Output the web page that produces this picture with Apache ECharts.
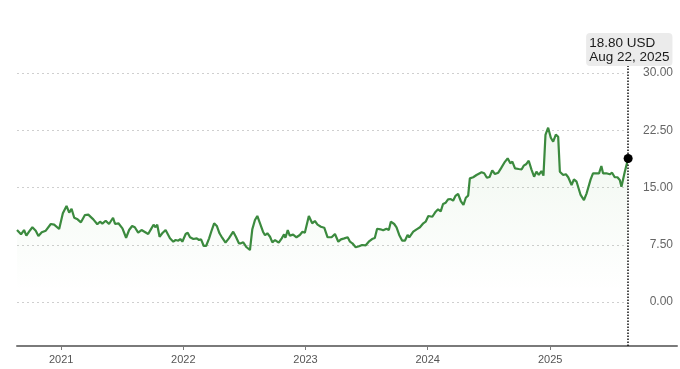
<!DOCTYPE html>
<html>
<head>
<meta charset="utf-8">
<script src="https://cdn.jsdelivr.net/npm/echarts@6/dist/echarts.min.js"></script>
<style>
html,body{margin:0;padding:0;background:#fff;}
#chart{width:680px;height:369px;}
</style>
</head>
<body>
<div id="chart"></div>
<script>
// ---- data ----
const startDate = [2020, 7, 22];          // Aug 22, 2020 (day offsets below count from here)
const axisEndOffset = 1972;               // x-axis runs a little past the last point
const yearTicks = [2021, 2022, 2023, 2024, 2025];
const dayOffsets = [
0,12,21,28,36,46,56,64,74,86,101,111,126,137,148,156,163,171,181,191,203,213,228,240,248,255,265,275,287,293,303,315,326,335,
344,352,362,372,382,392,400,408,414,419,426,434,444,457,467,474,482,488,494,504,510,517,527,537,544,550,558,565,574,582,589,597,605,613,623,633,646,654,663,
669,676,686,696,703,711,718,725,735,741,748,756,763,771,776,782,791,798,802,809,815,825,835,845,853,860,872,882,890,898,908,918,928,940,950,960,968,978,
988,995,1002,1012,1022,1031,1042,1051,1061,1069,1076,1086,1094,1104,1111,1117,1127,1134,1142,1151,1159,1167,1172,1184,1194,1204,1214,1221,1229,1241,1251,1258,1266,1273,1281,1288,1296,1303,1310,
1318,1326,1334,1341,1348,1353,1363,1373,1380,1388,1396,1404,1412,1420,1428,1438,1446,1456,1466,1474,1480,1488,1499,1508,1514,1521,1529,1537,1545,1552,1559,1567,1573,1579,1587,1595,1602,1610,1617,
1622,1632,1640,1647,1657,1664,1672,1684,1694,1702,1714,1721,1739,1746,1751,1761,1771,1778,1786,1794,1801,1806,1816,1826
];
const prices = [
9.43,8.87,9.43,8.69,9.21,9.79,9.34,8.65,9.13,9.34,10.22,10.13,9.56,11.62,12.58,11.70,12.22,11.04,10.83,10.44,11.40,11.44,10.83,10.18,10.52,10.26,10.65,10.22,11.04,10.22,10.31,9.65,8.42,9.43,
9.96,9.79,9.08,9.43,9.17,8.91,9.52,10.13,9.79,10.13,8.55,9.00,9.43,8.34,7.90,8.12,8.03,8.25,7.90,8.91,9.08,8.48,8.25,8.34,8.12,8.21,7.34,7.34,8.34,9.43,10.31,9.96,9.00,8.42,7.77,8.34,9.21,8.55,7.69,
7.69,7.82,7.17,6.81,9.52,10.74,11.27,10.44,9.21,8.74,9.00,8.55,7.82,8.12,8.34,7.77,8.34,8.87,8.42,9.43,8.69,8.82,8.48,8.78,9.21,9.08,11.27,10.31,10.61,10.13,9.86,9.73,8.48,8.48,8.91,7.90,8.21,8.34,
8.48,7.90,7.69,7.17,7.30,7.47,7.43,7.90,8.25,8.38,9.60,9.52,9.39,9.60,9.43,10.52,10.22,9.79,8.78,8.03,8.03,8.78,8.48,9.21,9.52,9.79,10.31,10.52,11.27,11.17,11.83,12.14,11.88,12.84,13.01,13.45,13.49,13.27,13.89,
14.15,13.23,12.71,13.66,13.93,16.20,16.34,16.64,16.81,16.99,16.86,16.28,16.38,17.25,16.77,16.94,17.51,18.25,18.82,18.17,18.38,17.51,17.42,17.38,17.86,18.04,18.51,17.38,16.41,17.07,16.64,17.16,16.55,21.88,22.83,21.52,21.00,21.92,21.65,
17.07,16.64,16.73,16.34,15.33,16.07,15.76,14.02,13.36,14.24,16.07,16.86,16.86,17.82,16.86,16.86,16.73,16.94,16.34,16.34,15.98,15.10,17.07,18.80
];
const yTickMin = 0, yTickMax = 30, yTickStep = 7.5;
const currency = 'USD';
const monthNames = ['Jan','Feb','Mar','Apr','May','Jun','Jul','Aug','Sep','Oct','Nov','Dec'];

// ---- build ----
const toTime = d => Date.UTC(startDate[0], startDate[1], startDate[2] + d);
const seriesData = dayOffsets.map((d, i) => [toTime(d), prices[i]]);
const yearTimes = yearTicks.map(y => Date.UTC(y, 0, 1));
const last = seriesData[seriesData.length - 1];
const lastDate = new Date(last[0]);
const lastLabel = '{a|' + last[1].toFixed(2) + ' ' + currency + '}\n{b|' +
  monthNames[lastDate.getUTCMonth()] + ' ' + lastDate.getUTCDate() + ', ' + lastDate.getUTCFullYear() + '}';

const FONT = '"Liberation Sans", Arial, Helvetica, sans-serif';
const chart = echarts.init(document.getElementById('chart'), null, {renderer: 'canvas'});
chart.setOption({
  animation: false,
  backgroundColor: '#fff',
  textStyle: {fontFamily: FONT},
  grid: [
    {left: 17, right: 3, top: 65, bottom: 23},
    {left: 17, right: 52, top: 73, bottom: 67}
  ],
  xAxis: [
    {
      type: 'value', gridIndex: 0,
      min: toTime(0), max: toTime(axisEndOffset),
      splitLine: {show: false},
      axisLine: {show: true, onZero: false, lineStyle: {color: '#7a7a7a', width: 2}},
      axisTick: {show: true, length: 4, customValues: yearTimes, lineStyle: {color: '#7a7a7a', width: 1}},
      axisLabel: {customValues: yearTimes, formatter: v => String(new Date(v).getUTCFullYear()),
                  color: '#555', fontSize: 11, margin: 8, fontFamily: FONT}
    },
    {type: 'value', gridIndex: 1, min: 0, max: 1, show: false}
  ],
  yAxis: [
    {type: 'value', gridIndex: 0, min: -5.764, max: 31.048, show: false},
    {
      type: 'value', gridIndex: 1, position: 'right',
      min: yTickMin, max: yTickMax, interval: yTickStep,
      axisLine: {show: false}, axisTick: {show: false},
      splitLine: {show: true, lineStyle: {color: '#cfcfcf', type: [2, 3], width: 1}},
      axisLabel: {align: 'right', margin: 45, color: '#666', fontSize: 12, fontFamily: FONT,
                  formatter: v => v.toFixed(2)}
    }
  ],
  series: [{
    type: 'line', xAxisIndex: 0, yAxisIndex: 0,
    data: seriesData,
    showSymbol: false, symbol: 'none',
    lineStyle: {color: '#3b8a3e', width: 2.2},
    areaStyle: {
      origin: 'start',
      color: new echarts.graphic.LinearGradient(0, 0, 0, 1, [
        {offset: 0, color: 'rgba(90,170,80,0.13)'},
        {offset: 0.55, color: 'rgba(90,170,80,0.035)'},
        {offset: 0.75, color: 'rgba(90,170,80,0)'},
        {offset: 1, color: 'rgba(90,170,80,0)'}
      ])
    },
    markLine: {
      silent: true, symbol: 'none',
      lineStyle: {color: '#111', type: 'dotted', width: 1.5},
      label: {show: false},
      data: [{xAxis: last[0]}]
    },
    markPoint: {
      silent: true,
      symbol: 'circle', symbolSize: 9,
      itemStyle: {color: '#000'},
      label: {
        show: true, position: 'top', distance: 88, align: 'left', offset: [-42, 0],
        formatter: lastLabel,
        backgroundColor: '#ebebeb', borderRadius: 4, padding: [3, 3, 2, 3],
        rich: {
          a: {fontSize: 13.5, color: '#1a1a1a', lineHeight: 14, fontFamily: FONT},
          b: {fontSize: 13.5, color: '#1a1a1a', lineHeight: 14, fontFamily: FONT}
        }
      },
      data: [{coord: last}]
    }
  }]
});
</script>
</body>
</html>
